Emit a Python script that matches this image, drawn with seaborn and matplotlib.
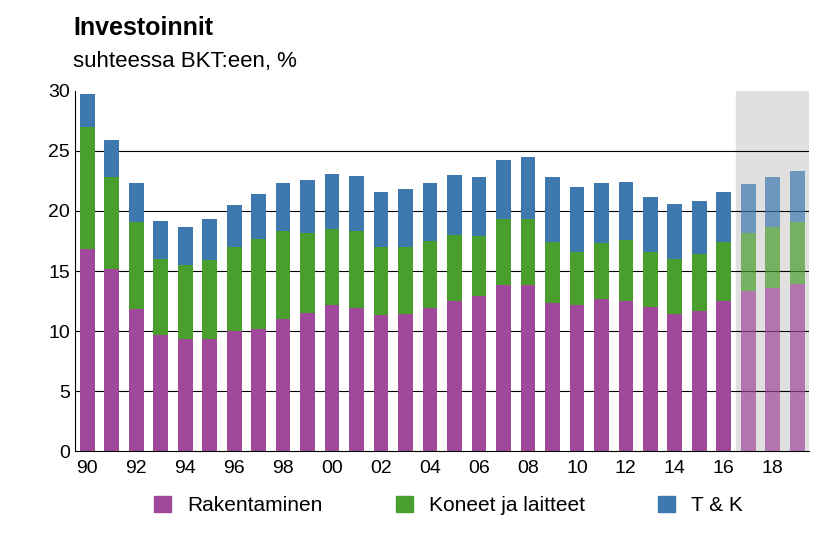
import numpy as np
import pandas as pd
import seaborn as sns
import matplotlib.pyplot as plt

plt.rcParams["font.family"] = "Liberation Sans"

years = list(range(1990, 2020))
rakentaminen = [16.8, 15.2, 11.8, 9.7, 9.3, 9.3, 10.0, 10.2, 11.0, 11.5, 12.2, 11.9, 11.3, 11.4, 11.9,
                12.5, 12.9, 13.8, 13.8, 12.3, 12.2, 12.7, 12.5, 12.0, 11.4, 11.7, 12.5, 13.3, 13.6, 13.9]
koneet_top = [27.0, 22.8, 19.1, 16.0, 15.5, 15.9, 17.0, 17.7, 18.3, 18.2, 18.5, 18.3, 17.0, 17.0, 17.5,
              18.0, 17.9, 19.3, 19.3, 17.4, 16.6, 17.3, 17.6, 16.6, 16.0, 16.4, 17.4, 18.2, 18.7, 19.1]
total = [29.7, 25.9, 22.3, 19.2, 18.7, 19.3, 20.5, 21.4, 22.3, 22.6, 23.1, 22.9, 21.6, 21.8, 22.3,
         23.0, 22.8, 24.2, 24.5, 22.8, 22.0, 22.3, 22.4, 21.2, 20.6, 20.8, 21.6, 22.2, 22.8, 23.3]
forecast_start = 2017

koneet = [k - r for k, r in zip(koneet_top, rakentaminen)]
tk = [t - k for t, k in zip(total, koneet_top)]

df = pd.DataFrame({"year": [str(y)[2:] for y in years], "r": rakentaminen, "k": koneet, "t": tk})
df["kb"] = df["r"]
df["tb"] = df["r"] + df["k"]

c_r, c_k, c_t = "#A0489A", "#4A9E2E", "#3D78AE"

fig = plt.figure(figsize=(8.16, 5.34), dpi=100)
ax = fig.add_axes([0.092, 0.155, 0.9, 0.675])
nf = years.index(forecast_start)
n = len(years)
ax.axvspan(nf - 0.5, n - 0.5, color="#E0E0E0", zorder=0)
for y in range(5, 30, 5):
    ax.axhline(y, color="black", lw=0.8, zorder=1)

sns.barplot(data=df, x="year", y="r", color=c_r, width=0.6, saturation=1, ax=ax, zorder=2)
sns.barplot(data=df, x="year", y="k", bottom=df["kb"], color=c_k, width=0.6, saturation=1, ax=ax, zorder=2)
sns.barplot(data=df, x="year", y="t", bottom=df["tb"], color=c_t, width=0.6, saturation=1, ax=ax, zorder=2)
for cont in ax.containers:
    for i, p in enumerate(cont.patches):
        if i >= nf:
            p.set_alpha(0.7)

ax.set_xlim(-0.5, n - 0.5)
ax.set_ylim(0, 30)
ax.set_yticks(range(0, 31, 5))
ax.set_xticks(range(0, n, 2))
ax.set_xticklabels([str(y)[2:] for y in years[::2]])
ax.set_xlabel("")
ax.set_ylabel("")
ax.tick_params(labelsize=14, length=0)
ax.tick_params(axis="x", pad=6)
for s in ["top", "right"]:
    ax.spines[s].set_visible(False)

fig.text(0.09, 0.935, "Investoinnit", fontsize=18, fontweight="bold")
fig.text(0.09, 0.875, "suhteessa BKT:een, %", fontsize=16)

handles = [plt.Rectangle((0, 0), 1, 1, color=c) for c in (c_r, c_k, c_t)]
fig.legend(handles, ["Rakentaminen", "Koneet ja laitteet", "T & K"], loc="lower center",
           ncol=3, frameon=False, fontsize=15, bbox_to_anchor=(0.55, 0.0), columnspacing=3.5,
           handlelength=0.8, handleheight=0.8)
fig.savefig("out.png", dpi=100)
